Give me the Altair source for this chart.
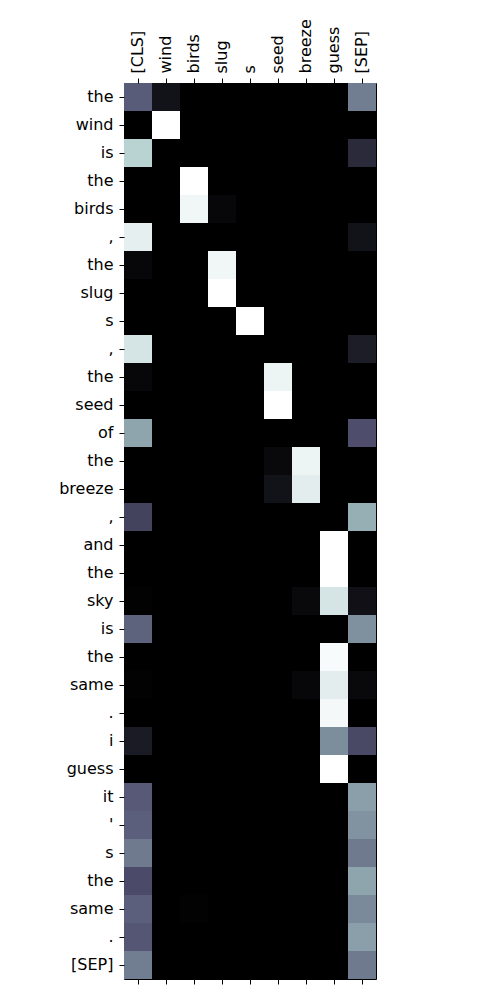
import json
import altair as alt
import pandas as pd

rows = ["the", "wind", "is", "the", "birds", ",", "the", "slug", "s", ",",
        "the", "seed", "of", "the", "breeze", ",", "and", "the", "sky", "is",
        "the", "same", ".", "i", "guess", "it", "'", "s", "the", "same", ".", "[SEP]"]
cols = ["[CLS]", "wind", "birds", "slug", "s", "seed", "breeze", "guess", "[SEP]"]

n = len(rows)
def col(entries):
    v = [0.0] * n
    for i, val in entries.items():
        v[i] = val
    return v

cls_vals = [0.40, 0, 0.80, 0, 0, 0.93, 0.03, 0, 0, 0.88, 0.03, 0, 0.64, 0, 0, 0.30,
            0, 0, 0.01, 0.42, 0, 0.01, 0, 0.12, 0, 0.39, 0.41, 0.50, 0.34, 0.41, 0.38, 0.51]
wind_vals = col({0: 0.08, 1: 1.0})
birds_vals = col({3: 1.0, 4: 0.96, 29: 0.01})
slug_vals = col({4: 0.03, 6: 0.96, 7: 1.0})
s_vals = col({8: 1.0})
seed_vals = col({10: 0.95, 11: 1.0, 13: 0.04, 14: 0.08})
breeze_vals = col({13: 0.95, 14: 0.92, 18: 0.04, 21: 0.03})
guess_vals = col({16: 1.0, 17: 1.0, 18: 0.88, 20: 0.98, 21: 0.92, 22: 0.97, 23: 0.56, 24: 1.0})
sep_vals = col({0: 0.51, 2: 0.19, 5: 0.08, 9: 0.13, 12: 0.35, 15: 0.67, 18: 0.07, 19: 0.57,
                21: 0.04, 23: 0.33, 25: 0.62, 26: 0.58, 27: 0.50, 28: 0.64, 29: 0.55,
                30: 0.62, 31: 0.50})

series = [cls_vals, wind_vals, birds_vals, slug_vals, s_vals, seed_vals,
          breeze_vals, guess_vals, sep_vals]

records = []
for c, vals in zip(cols, series):
    for i, v in enumerate(vals):
        records.append({"col": c, "row": i, "value": v})
df = pd.DataFrame(records)

label_expr = json.dumps(rows) + "[toNumber(datum.value)]"

FONT = "DejaVu Sans"
FS = 16

color = alt.Color("value:Q",
                  scale=alt.Scale(domain=[0, 0.365079, 0.746032, 1],
                                  range=["#000000", "#515171", "#a6c6c6", "#ffffff"],
                                  interpolate="rgb"),
                  legend=None)

y_enc = alt.Y("row:O", sort="ascending", title=None,
              scale=alt.Scale(paddingInner=0, paddingOuter=0),
              axis=alt.Axis(orient="left", labelExpr=label_expr,
                            labelFont=FONT, labelFontSize=FS, labelColor="black",
                            tickColor="black", tickSize=5, labelPadding=6,
                            domain=False, grid=False))

base = alt.Chart(df)

heat = base.mark_rect(strokeWidth=0).encode(
    x=alt.X("col:N", sort=cols, title=None,
            scale=alt.Scale(paddingInner=0, paddingOuter=0),
            axis=alt.Axis(orient="top", labelAngle=270, labelAlign="left",
                          labelBaseline="middle",
                          labelFont=FONT, labelFontSize=FS, labelColor="black",
                          tickColor="black", tickSize=5, labelPadding=5,
                          domain=False, grid=False)),
    y=y_enc,
    color=color,
)

bottom = base.mark_rect(opacity=0).encode(
    x=alt.X("col:N", sort=cols, title=None,
            scale=alt.Scale(paddingInner=0, paddingOuter=0),
            axis=alt.Axis(orient="bottom", labels=False, tickColor="black",
                          tickSize=5, domain=False, grid=False)),
    y=y_enc,
)

chart = alt.layer(heat, bottom).resolve_axis(x="independent").properties(
    width=252, height=896,
    autosize=alt.AutoSizeParams(type="none"),
    padding={"left": 124, "top": 83, "right": 124, "bottom": 21},
    background="white",
).configure_view(stroke="black", strokeWidth=1)

chart.save("out.html", embed_options={"renderer": "svg", "actions": False})
